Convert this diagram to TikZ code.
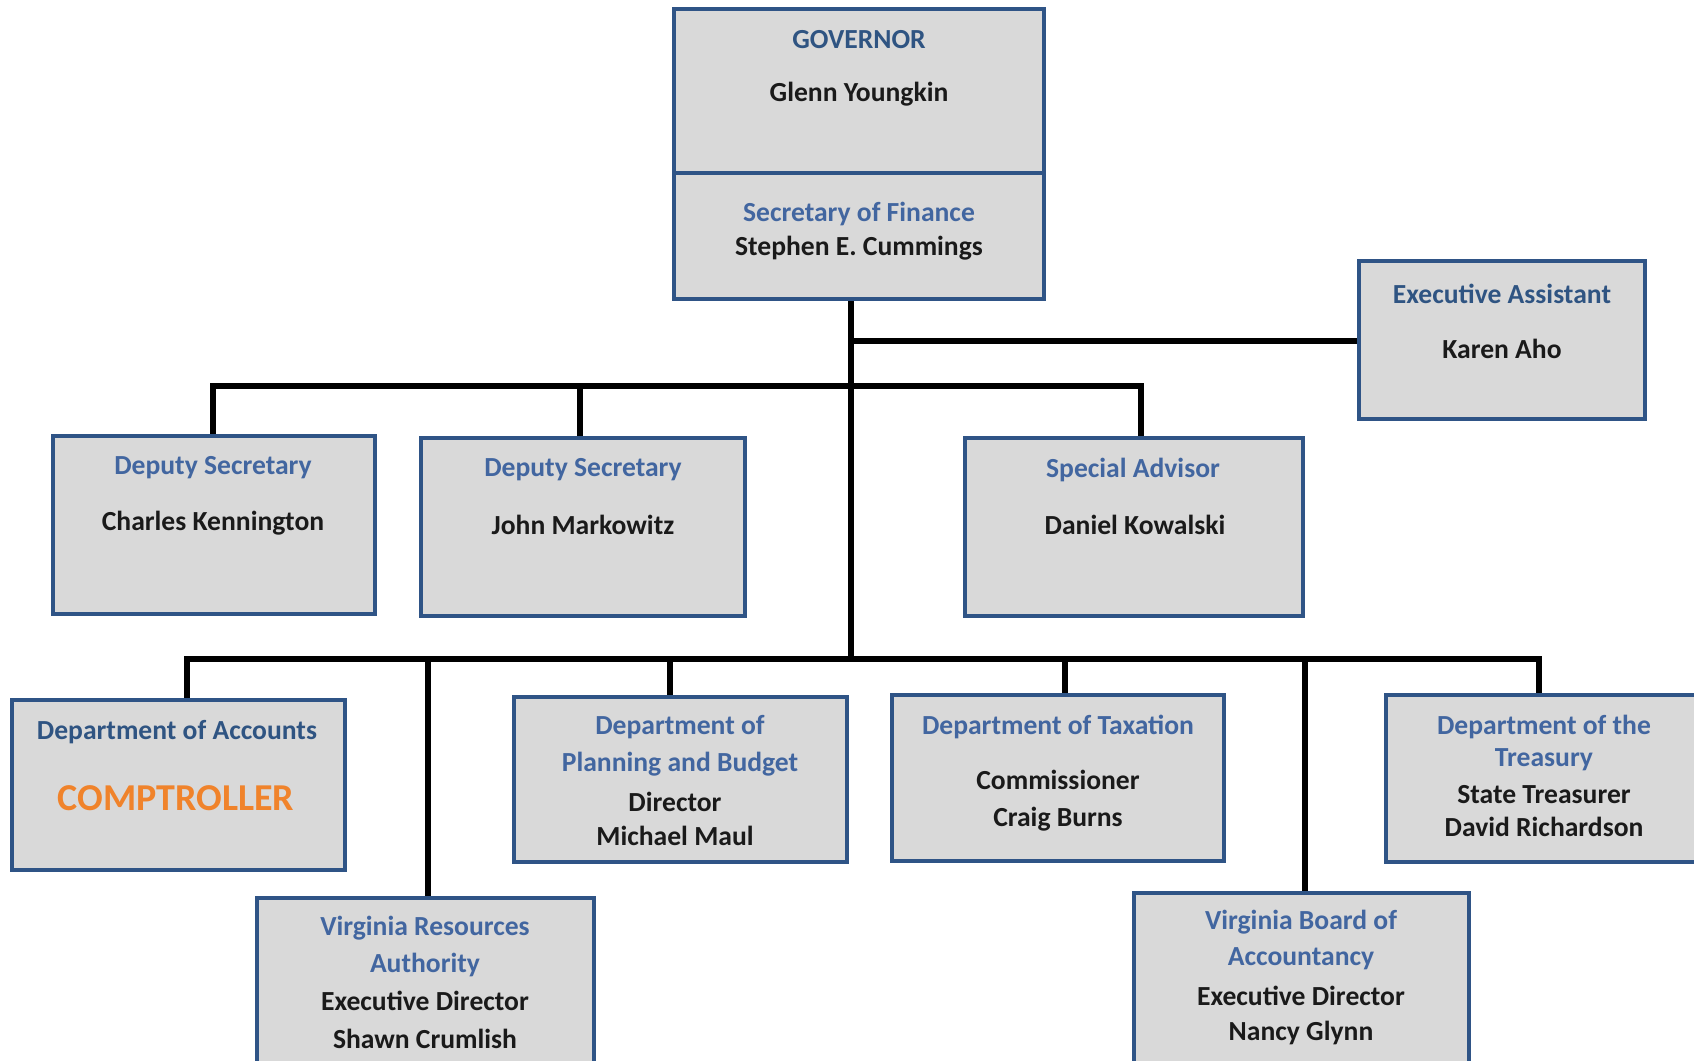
\documentclass[tikz,border=0pt]{standalone}
\usepackage{fontspec}
\setmainfont{Carlito}
\definecolor{bord}{HTML}{2F5486}
\definecolor{boxfill}{HTML}{D9D9D9}
\definecolor{ttl}{HTML}{4266A0}
\definecolor{ttldark}{HTML}{2F5482}
\definecolor{orng}{HTML}{F0832B}
\definecolor{nmcol}{HTML}{1A1A1A}
\begin{document}
\begin{tikzpicture}[x=0.5pt,y=-0.5pt,
  box/.style={draw=bord, line width=2pt, fill=boxfill, inner sep=0pt},
  ttlt/.style={inner sep=0pt, yshift=-1pt, font=\bfseries\fontsize{13.8}{16}\selectfont, text=ttl},
  ttld/.style={inner sep=0pt, yshift=-1pt, font=\bfseries\fontsize{13.8}{16}\selectfont, text=ttldark},
  nm/.style={inner sep=0pt, yshift=-1pt, font=\bfseries\fontsize{13.8}{16}\selectfont, text=nmcol},
  conn/.style={draw=black, line width=2.8pt}]
\useasboundingbox (0,0) rectangle (1694,1061);
\clip (0,0) rectangle (1694,1061);
\fill[white] (0,0) rectangle (1694,1061);

% junction coordinates
\coordinate (j1) at (851,341);
\coordinate (j3) at (851,659);
\coordinate (a1) at (213,386);
\coordinate (a2) at (580,386);
\coordinate (a3) at (1141,386);
\coordinate (d1) at (187,659);
\coordinate (d2) at (428,659);
\coordinate (d3) at (670,659);
\coordinate (d4) at (1065,659);
\coordinate (d5) at (1305,659);
\coordinate (d6) at (1539,659);

% boxes
\node[box, minimum width=185pt, minimum height=82pt] (gov) at (859,91) {};
\node[box, minimum width=185pt, minimum height=63pt] (sec) at (859,236) {};
\node[box, minimum width=143pt, minimum height=79pt] (exec) at (1502,340) {};
\node[box, minimum width=161pt, minimum height=89pt] (dep1) at (214,525) {};
\node[box, minimum width=162pt, minimum height=89pt] (dep2) at (583,527) {};
\node[box, minimum width=169pt, minimum height=89pt] (spec) at (1134,527) {};
\node[box, minimum width=166.5pt, minimum height=85pt] (acc) at (178.5,785) {};
\node[box, minimum width=166.5pt, minimum height=82.5pt] (plan) at (680.5,779.5) {};
\node[box, minimum width=166pt, minimum height=83pt] (tax) at (1058,778) {};
\node[box, minimum width=167pt, minimum height=83.5pt] (treas) at (1553,778.5) {};
\node[box, minimum width=168.5pt, minimum height=88.5pt] (vra) at (425.5,986.5) {};
\node[box, minimum width=167.5pt, minimum height=91pt] (board) at (1301.5,984) {};

% connectors
\draw[conn] (sec.south -| j1) -- (j3);
\draw[conn] (j1) -- (j1 -| exec.west);
\draw[conn, line cap=rect] (a1) -- (a3);
\draw[conn] (a1) -- (a1 |- dep1.north);
\draw[conn] (a2) -- (a2 |- dep2.north);
\draw[conn] (a3) -- (a3 |- spec.north);
\draw[conn, line cap=rect] (d1) -- (d6);
\draw[conn] (d1) -- (d1 |- acc.north);
\draw[conn] (d2) -- (d2 |- vra.north);
\draw[conn] (d3) -- (d3 |- plan.north);
\draw[conn] (d4) -- (d4 |- tax.north);
\draw[conn] (d5) -- (d5 |- board.north);
\draw[conn] (d6) -- (d6 |- treas.north);

% texts
\node[ttld] (govt) at (859,38) {GOVERNOR};
\node[nm] (govn) at (859,92) {Glenn Youngkin};
\node[ttlt] (sect) at (859,212) {Secretary of Finance};
\node[nm] (secn) at (859,246) {Stephen E. Cummings};
\node[ttld] (exect) at (1502,292) {Executive Assistant};
\node[nm] (execn) at (1502,347) {Karen Aho};
\node[ttlt] (dep1t) at (213,466) {Deputy Secretary};
\node[nm] (dep1n) at (213,521) {Charles Kennington};
\node[ttlt] (dep2t) at (583,468) {Deputy Secretary};
\node[nm] (dep2n) at (583,523) {John Markowitz};
\node[ttlt] (spect) at (1133,468) {Special Advisor};
\node[nm] (specn) at (1135,523) {Daniel Kowalski};
\node[ttld] (acct) at (177,730) {Department of Accounts};
\node[inner sep=0pt, yshift=-1pt, font=\bfseries\fontsize{19}{22}\selectfont, text=orng] (accn) at (176,796) {COMPTROLLER};
\node[ttlt] (plant1) at (680,725) {Department of};
\node[ttlt] (plant2) at (680,762) {Planning and Budget};
\node[nm] (plann1) at (675,800) {Director};
\node[nm] (plann2) at (675,834) {Michael Maul};
\node[ttlt] (taxt) at (1058,725) {Department of Taxation};
\node[nm] (taxn1) at (1058,778) {Commissioner};
\node[nm] (taxn2) at (1058,817) {Craig Burns};
\node[ttlt] (treast1) at (1544,725) {Department of the};
\node[ttlt] (treast2) at (1544,758) {Treasury};
\node[nm] (treasn1) at (1544,793) {State Treasurer};
\node[nm] (treasn2) at (1544,825) {David Richardson};
\node[ttlt] (vrat1) at (425,926) {Virginia Resources};
\node[ttlt] (vrat2) at (425,963) {Authority};
\node[nm] (vran1) at (425,999) {Executive Director};
\node[nm] (vran2) at (425,1037) {Shawn Crumlish};
\node[ttlt] (boardt1) at (1301,920) {Virginia Board of};
\node[ttlt] (boardt2) at (1301,957) {Accountancy};
\node[nm] (boardn1) at (1301,994) {Executive Director};
\node[nm] (boardn2) at (1301,1031) {Nancy Glynn};
\end{tikzpicture}
\end{document}
